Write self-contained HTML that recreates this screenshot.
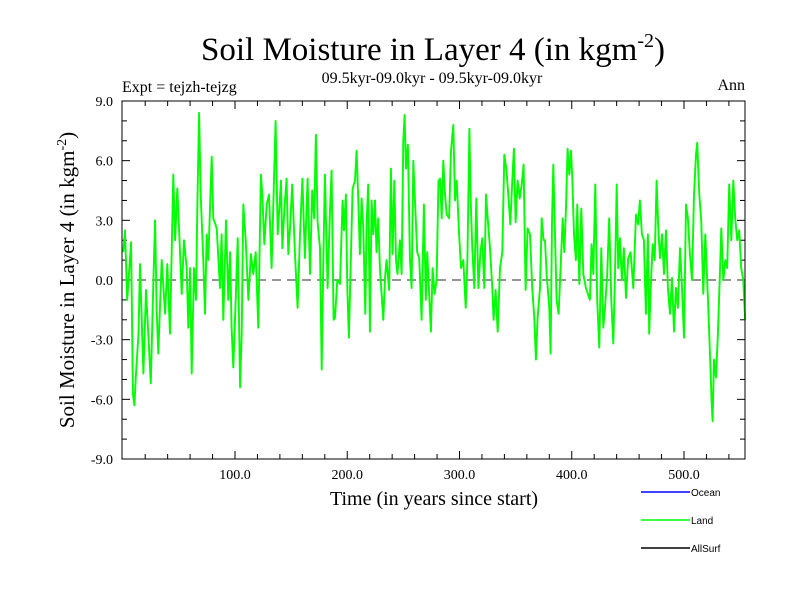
<!DOCTYPE html>
<html><head><meta charset="utf-8"><style>
body{margin:0;background:#fff;}
svg{display:block;}
text{font-family:"Liberation Serif",serif;fill:#000;}
.sans{font-family:"Liberation Sans",sans-serif;}
</style></head><body>
<svg id="chart" width="800" height="600" viewBox="0 0 800 600">
<rect width="800" height="600" fill="#fff"/>
<text x="433" y="60" font-size="33" text-anchor="middle">Soil Moisture in Layer 4 (in kgm<tspan dy="-13" font-size="20">-2</tspan><tspan dy="13">)</tspan></text>
<text x="122" y="92" font-size="16">Expt = tejzh-tejzg</text>
<text x="432" y="83" font-size="16" text-anchor="middle">09.5kyr-09.0kyr - 09.5kyr-09.0kyr</text>
<text x="745" y="90" font-size="16" text-anchor="end">Ann</text>
<g id="axes"></g>
<g id="series"></g>
<rect x="122" y="101" width="623" height="358" fill="none" stroke="#000" stroke-width="1"/>
<text x="434" y="505" font-size="20" text-anchor="middle">Time (in years since start)</text>
<text transform="translate(74,280) rotate(-90)" font-size="21" text-anchor="middle">Soil Moisture in Layer 4 (in kgm<tspan dy="-8" font-size="14">-2</tspan><tspan dy="8">)</tspan></text>
<g>
<line x1="641" y1="492" x2="690" y2="492" stroke="#0000ff" stroke-width="1.5"/>
<text class="sans" x="691" y="496" font-size="10">Ocean</text>
<line x1="641" y1="520" x2="690" y2="520" stroke="#00ff00" stroke-width="1.5"/>
<text class="sans" x="691" y="524" font-size="10">Land</text>
<line x1="641" y1="548" x2="690" y2="548" stroke="#000" stroke-width="1.5"/>
<text class="sans" x="691" y="552" font-size="10">AllSurf</text>
</g>
</svg>
<script>
const years=[0.5,2,4,7.4,9,10.4,11.8,14,15.4,18.4,20.7,22.8,25,27.3,28.8,30.2,31.7,34.7,37.7,39.7,42.1,45,46.6,48.6,50.4,52.5,54.6,57,58.4,60,61.4,63.5,65.3,66.4,68,69.4,71.8,73.3,74.8,76.2,79.2,80.7,83.7,86.6,88.1,89.6,92,94,
95.6,97,98.5,100.6,102.4,104.5,106,107.4,109.5,111.9,114.2,116.3,118.4,120.8,123.1,124.3,126.1,128.2,130.3,132.6,135,136.2,138,139.2,141,142.1,143.9,146,147.5,149,151,153.4,155.8,157.9,160,162.3,164.7,166.8,168.8,170.6,172.1,173.6,175.7,177.2,178.6,180.1,182.5,184.6,186.1,187.8,
189.1,191.1,193.5,195.9,197.1,198.8,200,201.5,203,204.8,206.9,208.3,209.8,211.3,212.8,214.3,216.1,217.2,218.7,220.2,221.7,223.2,224.7,226.1,227.6,229.1,230.6,232.1,233.6,235,237.4,238.9,240.4,241.9,243.4,244.8,246.9,248.4,249.9,251.1,252.3,254,255.8,257.3,258.8,260.6,262.3,264.1,266.2,268.3,270,271.2,272.7,274.5,276,277.8,279.6,281.3,
282.7,284.1,285.6,287.1,288.6,290.7,292.4,294.5,296,297.5,299.6,301.3,303.4,305.5,307,308.8,310,311.4,313.2,315,316.8,318.6,320.3,322.1,323.6,325.1,327.2,329.2,330.4,332.2,334,336.1,338.1,339.9,341.7,343.5,345.3,347,348.5,350,351.8,353.6,355.4,357.1,358.9,360.7,362.8,364.8,366.6,368.1,369.6,371.7,373.2,374.9,
376.2,377.6,380,381.2,382.4,383.6,385.1,386.5,388.3,390.1,391.9,393.4,394.8,396.3,397.8,399.3,400.5,402,403.7,404.9,406.7,408.5,410.3,412.6,414.4,416.2,417.7,419.2,421,422.7,424.5,426.3,428.1,429.6,431.6,433.4,435.2,437,438.5,440,441.4,442.9,444.7,446.5,448.3,450.3,452.4,454.8,457.2,459.2,460.7,462.5,464.3,466.1,467.8,469,
470.3,472.1,473.9,475.6,477.1,478.6,480.4,482.2,484,485.7,487.5,489.3,491.1,492.8,494.6,496.4,498.2,500,501.8,503.5,505.3,507.1,508.9,510.7,511.8,513.6,515.4,517.2,519,521.3,523.1,524.6,525.5,526.7,528.5,530.2,532,533.2,535,536.8,538.5,540.3,542.1,543.9,545.6,547.4,549.2,551,552.8,554.4];
const landValues=[1.4,2.5,-1,1.9,-5.7,-6.3,-4.7,-2.7,0.8,-4.7,-0.5,-2.7,-5.2,0,3.0,-1.4,-3.7,1,-1.7,0.8,-2.7,5.3,2,4.6,2.3,-0.7,2,0.6,-2.4,0.6,-4.7,0.6,-1,3.6,8.4,4.3,1,-1.7,2.3,1,6.2,3.1,2.6,-0.4,2.3,-2,3.0,-1,
1.4,-2.4,-4.4,-1,2.1,-5.4,-2.7,3.8,2,-1,1.3,0.3,1.4,-2.4,5.3,4.3,1.8,3.8,4.3,0.6,5.6,8,2.3,3.3,5,1.6,3.5,5.1,1.3,2.6,4.8,1.4,-1.4,2.3,5.1,1.1,5.1,0.3,4.5,3.1,7.3,2.9,1.6,-4.5,0.6,5.3,-0.4,3.5,5.5,-2,
-1.9,0,-0.2,4,2.5,4.3,-0.4,-2.9,0.6,4.6,5,6.5,4,1.3,4.1,2.6,-1.7,2.9,4.8,-2.6,4,2.3,4,1.4,3.1,0.6,-0.7,-2,0.1,1,-0.5,5.6,1.3,5,1,0.3,2,0.3,7,8.3,5.6,6.8,1.1,-0.4,6,3.6,1.4,1.1,-2,3.8,-1,1.4,-0.4,-2.6,0.6,-0.7,0,5,
5.1,3.1,6,4.3,3.3,3.1,6.5,7.8,4,5,2.3,0.6,1,-1.4,1,7.6,4,1.6,-0.4,4.1,-0.4,1.4,2.1,-0.4,4.3,3.1,1.6,-0.4,-2,-0.5,-2.6,0.6,1.4,6.3,5.6,4.3,2.8,5,6.6,2.9,5,4.1,4.8,5.8,-0.5,2.6,2.3,-0.4,-1.9,-4,-1.9,-0.4,3.1,2,
2,0.3,-1.4,-3.7,2.9,5.8,2.3,-1,-1.7,0.6,3.1,1.4,3.5,6.6,5.3,6.5,5.1,2.3,1,3.8,-0.2,3.6,0.3,-0.4,-0.7,-1,1.8,0.3,4.8,-1,-3.4,1.6,-2.4,-1.4,0.3,3.1,-1,-3.2,0.3,4.8,0.6,2.1,0,1.6,-0.9,1.1,1.4,-0.4,3.3,2.8,4,2.3,2,-1.7,2.3,-2.7,
-0.4,1.8,1,5,2.6,1.1,2.3,0.3,2.5,-0.4,-1.7,0.1,-2.6,-0.4,-1.4,1.6,-0.4,-2.9,3.8,3.1,1.3,0,4.3,6.3,6.9,4.3,2.9,-0.7,2.3,-0.9,-3.6,-6.1,-7.1,-4,-4.9,-2.7,0.3,2.6,0,1,0.6,4.8,2,5,3.1,2,2.5,0.6,0,-2];
const xTickValues=[100,200,300,400,500];
const xTickLabels=["100.0","200.0","300.0","400.0","500.0"];
const yTickValues=[-9,-6,-3,0,3,6,9];
const yTickLabels=["-9.0","-6.0","-3.0","0.0","3.0","6.0","9.0"];
const X0=122.75,XS=1.1225,YZ=280,YS=358/18;
function xS(v){return X0+v*XS;}
function yS(v){return YZ-v*YS;}
const NS="http://www.w3.org/2000/svg";
const axes=document.getElementById('axes');
function mk(tag,attrs,parent){const e=document.createElementNS(NS,tag);for(const k in attrs)e.setAttribute(k,attrs[k]);parent.appendChild(e);return e;}
for(let v=-9;v<=9;v++){
 const y=yS(v);const len=(v%3===0)?8:5;
 const t1=mk('line',{x1:122,x2:122+len,y1:y,y2:y,stroke:'#000'},axes);
 
 
 const t2=mk('line',{x1:745,x2:745-len,y1:y,y2:y,stroke:'#000'},axes);
 
 
}
yTickValues.forEach((v,i)=>{
 const t=mk('text',{x:113,y:yS(v)+5,'font-size':14,'text-anchor':'end'},axes);
 t.textContent=yTickLabels[i];
 
 
});
for(let v=20;v<=540;v+=20){
 const x=xS(v);const len=(v%100===0)?8:5;
 const t1=mk('line',{x1:x,x2:x,y1:459,y2:459-len,stroke:'#000'},axes);
 
 
 const t2=mk('line',{x1:x,x2:x,y1:101,y2:101+len,stroke:'#000'},axes);
 
 
}
xTickValues.forEach((v,i)=>{
 const t=mk('text',{x:xS(v),y:479,'font-size':14,'text-anchor':'middle'},axes);
 t.textContent=xTickLabels[i];
 
 
});
const zl=mk('line',{x1:122,x2:745,y1:yS(0),y2:yS(0),stroke:'#555','stroke-dasharray':'9,6','stroke-width':1.2},axes);


const g=document.getElementById('series');
const pts=years.map((yr,i)=>xS(yr).toFixed(1)+','+yS(landValues[i]).toFixed(1)).join(' ');
const pl=mk('polyline',{points:pts,fill:'none',stroke:'#00ff00','stroke-width':1.9,'stroke-linejoin':'round'},g);


</script>
</body></html>
